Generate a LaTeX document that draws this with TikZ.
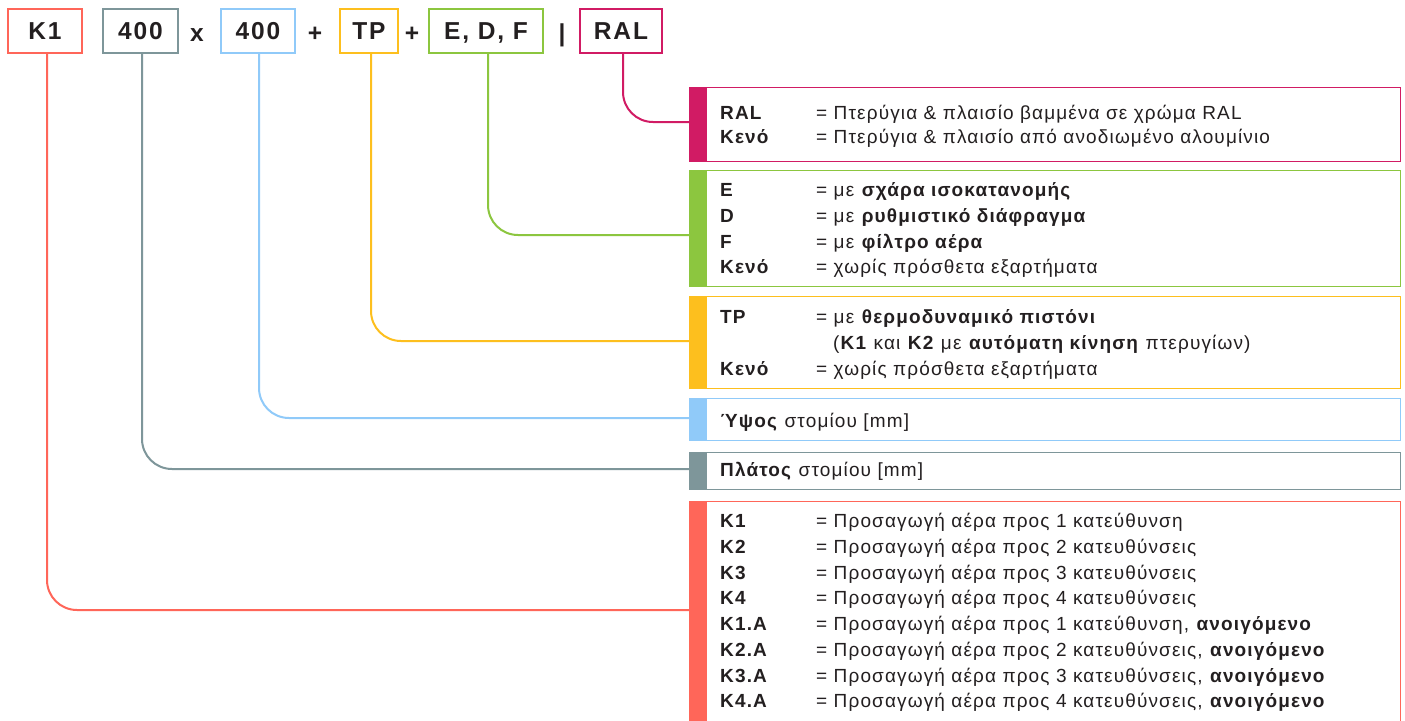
\documentclass[tikz,border=0pt]{standalone}
\usepackage{fontspec}
\setmainfont{Liberation Sans}[LetterSpace=6]
\newfontfamily\topfont{Liberation Sans}[LetterSpace=7.5]
\definecolor{cK}{HTML}{FF6659}
\definecolor{cW}{HTML}{7E969A}
\definecolor{cH}{HTML}{90CAF9}
\definecolor{cT}{HTML}{FDBF1E}
\definecolor{cE}{HTML}{8CC63F}
\definecolor{cR}{HTML}{D11B64}
\definecolor{ink}{HTML}{231F20}
\begin{document}
\begin{tikzpicture}[x=1pt,y=-1pt,
  topbox/.style={draw=#1, line width=2pt, minimum height=44pt, inner sep=0pt,
    text=ink, font=\topfont\fontsize{24.5}{28}\selectfont\bfseries, text height=17.5pt, text depth=0pt},
  sym/.style={inner sep=0pt, anchor=base, text=ink, font=\topfont\fontsize{24.5}{28}\selectfont\bfseries},
  conn/.style={draw=#1, line width=2pt, rounded corners=30pt},
  rbox/.style={draw=#1, line width=1.2pt, anchor=north west, minimum width=711pt, inner sep=0pt},
  lbl/.style={anchor=base west, inner sep=0pt, text=ink, font=\fontsize{19}{23}\selectfont\bfseries},
  desc/.style={anchor=base west, inner sep=0pt, text=ink, font=\fontsize{19}{23}\selectfont},
]
\useasboundingbox (0,0) rectangle (1405,720);
\fill[white] (0,0) rectangle (1405,720);

% top row
\node[topbox=cK, minimum width=74pt] (tk1) at (45,31) {K1};
\node[topbox=cW, minimum width=75pt] (tw) at (140.5,31) {400};
\node[sym] (sx) at (197,41) {x};
\node[topbox=cH, minimum width=74pt] (th) at (258,31) {400};
\node[sym] (sp1) at (315,41) {+};
\node[topbox=cT, minimum width=58pt] (ttp) at (369,31) {TP};
\node[sym] (sp2) at (412,41) {+};
\node[topbox=cE, minimum width=114pt] (tedf) at (486,31) {E, D, F};
\node[sym] (sbar) at (562,41) {|};
\node[topbox=cR, minimum width=82pt] (tral) at (621,31) {RAL};

% right boxes
\node[rbox=cR, minimum height=74pt] (bR) at (689,87) {};
\node[rbox=cE, minimum height=116pt] (bE) at (689,170) {};
\node[rbox=cT, minimum height=92pt] (bT) at (689,296) {};
\node[rbox=cH, minimum height=42pt] (bH) at (689,398) {};
\node[rbox=cW, minimum height=37pt] (bW) at (689,452) {};
\node[rbox=cK, minimum height=230pt] (bK) at (689,501) {};
\foreach \b/\c in {bR/cR,bE/cE,bT/cT,bH/cH,bW/cW,bK/cK}
  \fill[\c] (\b.north west) rectangle ([xshift=18pt]\b.south west);

% connector ends
\coordinate (eR) at (689,122);
\coordinate (eE) at (689,235);
\coordinate (eT) at (689,341);
\coordinate (eH) at (689,418);
\coordinate (eW) at (689,469);
\coordinate (eK) at (689,610);
\draw[conn=cR] ([xshift=2pt]tral.south) |- (eR);
\draw[conn=cE] ([xshift=2pt]tedf.south) |- (eE);
\draw[conn=cT] ([xshift=2pt]ttp.south) |- (eT);
\draw[conn=cH] ([xshift=1pt]th.south) |- (eH);
\draw[conn=cW] ([xshift=1.5pt]tw.south) |- (eW);
\draw[conn=cK] ([xshift=2pt]tk1.south) |- (eK);

% RAL box text
\node[lbl] (r1l) at (720,119) {RAL};
\node[desc] (r1d) at (816,119) {= Πτερύγια \& πλαισίο βαμμένα σε χρώμα RAL};
\node[lbl] (r2l) at (720,143) {Κενό};
\node[desc] (r2d) at (816,143) {= Πτερύγια \& πλαισίο από ανοδιωμένο αλουμίνιο};

% E D F box text
\node[lbl] (e1l) at (720,196) {E};
\node[desc] (e1d) at (816,196) {= με \textbf{σχάρα ισοκατανομής}};
\node[lbl] (e2l) at (720,222) {D};
\node[desc] (e2d) at (816,222) {= με \textbf{ρυθμιστικό διάφραγμα}};
\node[lbl] (e3l) at (720,248) {F};
\node[desc] (e3d) at (816,248) {= με \textbf{φίλτρο αέρα}};
\node[lbl] (e4l) at (720,273) {Κενό};
\node[desc] (e4d) at (816,273) {= χωρίς πρόσθετα εξαρτήματα};

% TP box text
\node[lbl] (t1l) at (720,323) {TP};
\node[desc] (t1d) at (816,323) {= με \textbf{θερμοδυναμικό πιστόνι}};
\node[desc] (t2d) at (833,349) {(\textbf{K1} και \textbf{K2} με \textbf{αυτόματη κίνηση} πτερυγίων)};
\node[lbl] (t3l) at (720,375) {Κενό};
\node[desc] (t3d) at (816,375) {= χωρίς πρόσθετα εξαρτήματα};

% height / width
\node[desc] (h1) at (720,427) {\textbf{Ύψος} στομίου [mm]};
\node[desc] (w1) at (720,476) {\textbf{Πλάτος} στομίου [mm]};

% K box text
\node[lbl] (k1l) at (720,527) {K1};
\node[desc] (k1d) at (816,527) {= Προσαγωγή αέρα προς 1 κατεύθυνση};
\node[lbl] (k2l) at (720,553) {K2};
\node[desc] (k2d) at (816,553) {= Προσαγωγή αέρα προς 2 κατευθύνσεις};
\node[lbl] (k3l) at (720,579) {K3};
\node[desc] (k3d) at (816,579) {= Προσαγωγή αέρα προς 3 κατευθύνσεις};
\node[lbl] (k4l) at (720,604) {K4};
\node[desc] (k4d) at (816,604) {= Προσαγωγή αέρα προς 4 κατευθύνσεις};
\node[lbl] (k5l) at (720,630) {K1.A};
\node[desc] (k5d) at (816,630) {= Προσαγωγή αέρα προς 1 κατεύθυνση, \textbf{ανοιγόμενο}};
\node[lbl] (k6l) at (720,656) {K2.A};
\node[desc] (k6d) at (816,656) {= Προσαγωγή αέρα προς 2 κατευθύνσεις, \textbf{ανοιγόμενο}};
\node[lbl] (k7l) at (720,682) {K3.A};
\node[desc] (k7d) at (816,682) {= Προσαγωγή αέρα προς 3 κατευθύνσεις, \textbf{ανοιγόμενο}};
\node[lbl] (k8l) at (720,707) {K4.A};
\node[desc] (k8d) at (816,707) {= Προσαγωγή αέρα προς 4 κατευθύνσεις, \textbf{ανοιγόμενο}};
\end{tikzpicture}
\end{document}
